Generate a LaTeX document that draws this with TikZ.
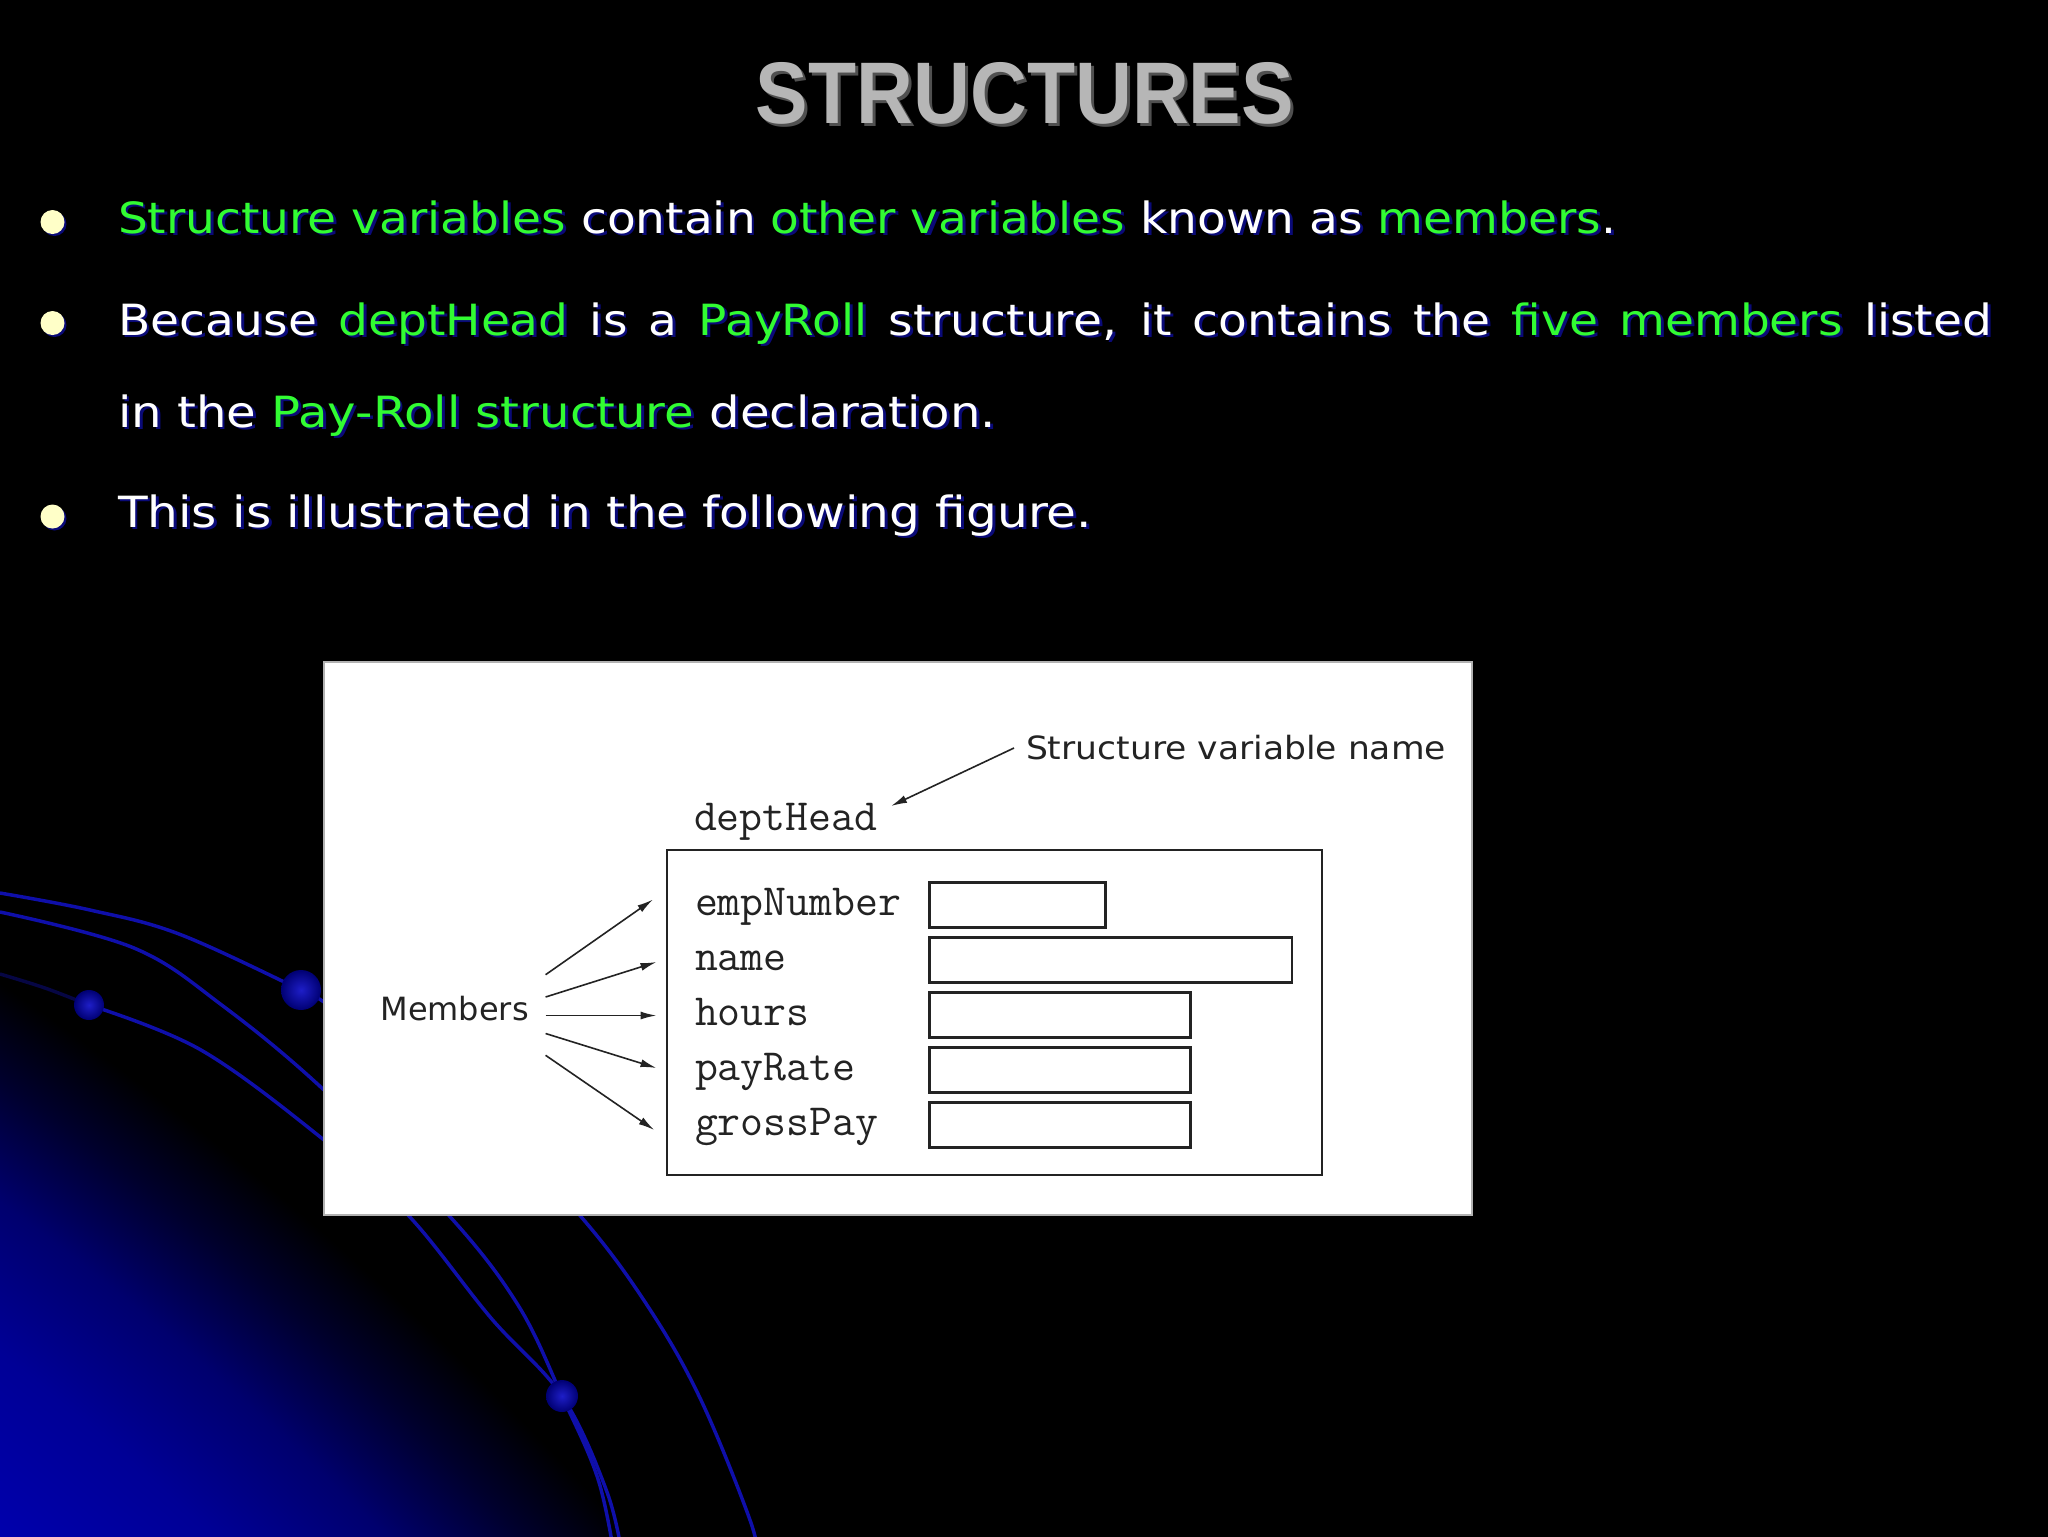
\documentclass[tikz,border=0pt]{standalone}
\usepackage{fontspec}
\usepackage{graphicx}
\usetikzlibrary{arrows.meta}
\newfontfamily\bodyfont{DejaVu Sans}
\newfontfamily\titlefont{Liberation Sans}
\newfontfamily\figsans{DejaVu Sans}
\definecolor{grn}{RGB}{50,252,50}
\definecolor{shadownavy}{RGB}{10,10,120}
\definecolor{cream}{RGB}{255,255,200}
\definecolor{titlegray}{RGB}{182,182,182}
\definecolor{titleshadow}{RGB}{80,80,80}
\definecolor{curveblue}{RGB}{15,15,170}
\definecolor{glowA}{RGB}{0,0,172}
\definecolor{glowB}{RGB}{0,0,150}
\definecolor{glowC}{RGB}{0,0,110}
\definecolor{glowD}{RGB}{0,0,45}
\definecolor{figink}{RGB}{35,35,35}
\definecolor{sphin}{RGB}{30,30,200}
\definecolor{sphout}{RGB}{0,0,115}
\pgfdeclareradialshading{cornerglow}{\pgfpoint{0bp}{0bp}}{color(0bp)=(glowA); color(21.43bp)=(glowA); color(22.43bp)=(glowB); color(23.29bp)=(glowC); color(24.0bp)=(glowD); color(24.57bp)=(black); color(50bp)=(black)}
\newcommand\G[1]{\textcolor{grn}{#1}}
\newcommand\plainG{\renewcommand\G[1]{##1}}
\newcommand\slA{\G{Structure variables} contain \G{other variables} known as \G{members}.}
\newcommand\slB{Because \G{deptHead} is a \G{PayRoll} structure, it contains the \G{five members} listed}
\newcommand\slC{in the \G{Pay-Roll structure} declaration.}
\newcommand\slD{This is illustrated in the following figure.}
\newlength\Lone
\newcommand\bodysize{\fontsize{16.125pt}{19pt}\selectfont}
\begin{document}
\settowidth\Lone{\bodyfont\bodysize\slA}%
\pgfmathsetmacro\hsx{561.75/\Lone}%
\pgfmathsetlengthmacro\Ltwo{702.75pt/\hsx}%
\begin{tikzpicture}[x=0.375pt,y=-0.375pt,
  bodytxt/.style={anchor=base west, inner sep=0pt, outer sep=0pt,
    font=\bodyfont\bodysize, text=white},
  bodyshd/.style={bodytxt, text=shadownavy, xshift=1.1pt, yshift=-1.1pt},
  bulletdot/.style={circle, fill=cream, minimum size=9pt, inner sep=0pt},
  bulletshd/.style={circle, fill=shadownavy, minimum size=9pt, inner sep=0pt},
  monotxt/.style={anchor=base west, inner sep=0pt, outer sep=0pt,
    font=\ttfamily\fontsize{16.7pt}{18pt}\selectfont, text=figink},
  figlabel/.style={anchor=base west, inner sep=0pt, outer sep=0pt,
    font=\figsans\fontsize{12pt}{14pt}\selectfont, text=figink},
  fieldbox/.style={draw=figink, line width=1pt, fill=white, inner sep=0pt, minimum height=16.7pt},
  structbox/.style={draw=figink, line width=1pt, inner sep=0pt},
  memarrow/.style={draw=figink, line width=0.6pt, -{Latex[length=6pt,width=3pt]}},
  bgcurve/.style={draw=curveblue, line width=1.3pt},
  sphere/.style={inner color=sphin, outer color=sphout}
]
\useasboundingbox (0,0) rectangle (2048,1536);
% background
\fill[black] (-20,-20) rectangle (2068,1556);
\begin{scope}
\clip (0,0) rectangle (2048,1536);
\shade[shading=cornerglow] (-1938,3825) circle (3500);
\draw[bgcurve] plot[smooth,tension=0.6] coordinates {(0,893) (90,910) (179,934) (301,990) (324,1002) (470,1100) (580,1215.5) (647,1305) (700,1398) (750,1520) (758,1560)};
\draw[bgcurve] plot[smooth,tension=0.6] coordinates {(0,912) (134,948) (223,1006) (324,1090) (449,1215.5) (518,1305) (562,1396) (598,1479) (615,1560)};
\draw[bgcurve] plot[smooth,tension=0.6] coordinates {(89,1005) (201,1050) (324,1140) (408.5,1215.5) (491,1318) (562,1396) (607,1492) (623,1560)};
\draw[draw=black!60!curveblue, line width=1.3pt] plot[smooth,tension=0.6] coordinates {(0,974) (45,988) (89,1005)};
\shade[sphere] (301,990) circle (20);
\shade[sphere] (89,1005) circle (15);
\shade[sphere] (562,1396) circle (16);
\end{scope}
% title
\node[anchor=base, inner sep=0pt, text=titleshadow] at (1028,126) {\resizebox{201.75pt}{22.9pt}{\titlefont\bfseries STRUCTURES}};
\node[anchor=base, inner sep=0pt, text=titlegray] (title) at (1025,123) {\resizebox{201.75pt}{22.9pt}{\titlefont\bfseries STRUCTURES}};
% bullets
\node[bulletshd] at (54.5,224) {};
\node[bulletdot] (b1) at (52.5,222) {};
\node[bulletshd] at (54.5,325) {};
\node[bulletdot] (b2) at (52.5,323) {};
\node[bulletshd] at (54.5,518.5) {};
\node[bulletdot] (b3) at (52.5,516.5) {};
% text lines
\node[bodyshd] at (118,233) {\plainG\scalebox{\hsx}[1]{\slA}};
\node[bodytxt] (line1) at (118,233) {\scalebox{\hsx}[1]{\slA}};
\node[bodyshd] at (118,335) {\plainG\scalebox{\hsx}[1]{\makebox[\Ltwo][s]{\slB}}};
\node[bodytxt] (line2) at (118,335) {\scalebox{\hsx}[1]{\makebox[\Ltwo][s]{\slB}}};
\node[bodyshd] at (118,427) {\plainG\resizebox{329.25pt}{\height}{\slC}};
\node[bodytxt] (line3) at (118,427) {\resizebox{329.25pt}{\height}{\slC}};
\node[bodyshd] at (118,527) {\plainG\resizebox{365.25pt}{\height}{\slD}};
\node[bodytxt] (line4) at (118,527) {\resizebox{365.25pt}{\height}{\slD}};
% figure panel
\fill[white] (324,662) rectangle (1472,1215);
\draw[gray!60, line width=0.4pt] (324,662) rectangle (1472,1215);
\node[structbox, minimum width=245.6pt, minimum height=121.9pt] (struct) at (994.5,1012.5) {};
\node[monotxt] (dh) at (694,830) {deptHead};
\node[figlabel] (svn) at (1026,759) {\resizebox{157.5pt}{\height}{Structure variable name}};
\node[monotxt] (l1) at (695,915) {empNumber};
\node[monotxt] (l2) at (695,970) {name};
\node[monotxt] (l3) at (695,1025) {hours};
\node[monotxt] (l4) at (695,1080) {payRate};
\node[monotxt] (l5) at (695,1135) {grossPay};
\node[fieldbox, minimum width=66pt] (f1) at (1017.5,905) {};
\node[fieldbox, minimum width=135.9pt] (f2) at (1110.75,960) {};
\node[fieldbox, minimum width=97.9pt] (f3) at (1060,1015) {};
\node[fieldbox, minimum width=97.9pt] (f4) at (1060,1070) {};
\node[fieldbox, minimum width=97.9pt] (f5) at (1060,1125) {};
\node[figlabel] (mem) at (380.5,1020) {Members};
% arrow coordinates
\coordinate (s0) at (1014,748);
\coordinate (s1) at (891,806);
\coordinate (m1) at (545.6,974.7);
\coordinate (m2) at (545.6,997);
\coordinate (m3) at (545.6,1015.5);
\coordinate (m4) at (545.6,1033.5);
\coordinate (m5) at (545.6,1055.3);
\coordinate (e1) at (653,899.5);
\coordinate (e2) at (656.5,962);
\coordinate (e3) at (656.5,1015.5);
\coordinate (e4) at (656.5,1068);
\coordinate (e5) at (654.3,1130);
\draw[memarrow] (s0) -- (s1);
\draw[memarrow] (m1) -- (e1);
\draw[memarrow] (m2) -- (e2);
\draw[memarrow] (m3) -- (e3);
\draw[memarrow] (m4) -- (e4);
\draw[memarrow] (m5) -- (e5);
\end{tikzpicture}
\end{document}
